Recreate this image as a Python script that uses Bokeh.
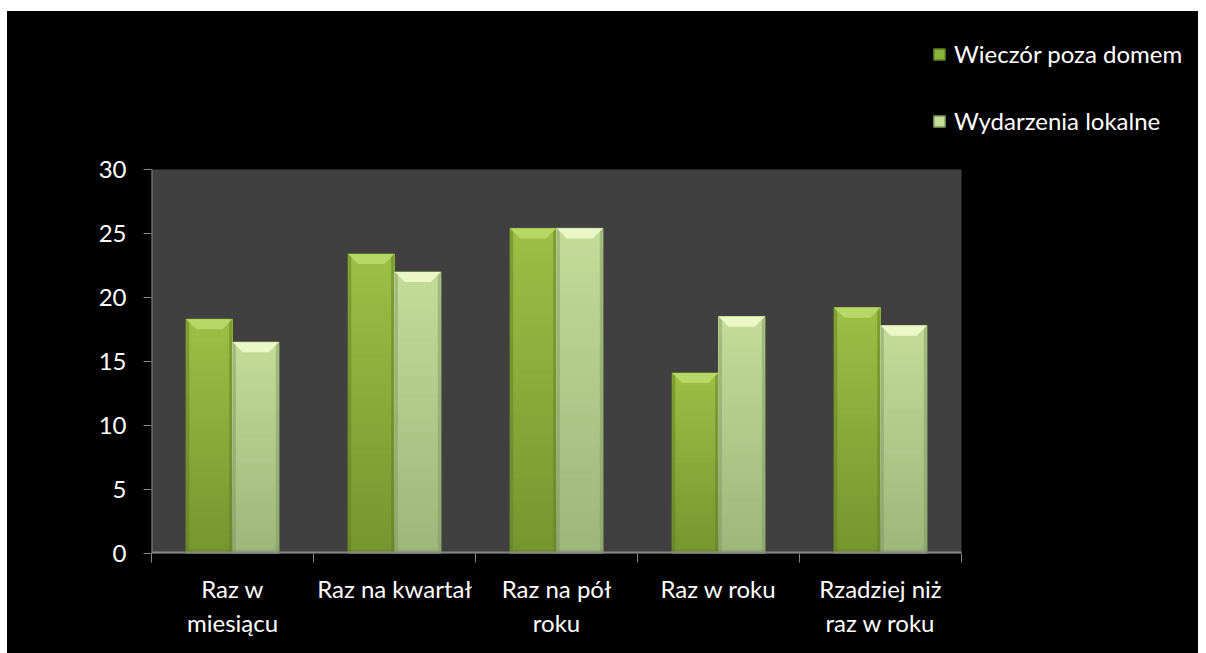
from bokeh.plotting import figure
from bokeh.models import (Range1d, FixedTicker, Legend, LegendItem, Spacer)
from bokeh.layouts import column, row
from bokeh.embed import file_html
from bokeh.resources import INLINE

# ---- data ----
categories = ["Raz w\nmiesiącu", "Raz na kwartał", "Raz na pół\nroku",
              "Raz w roku", "Rzadziej niż\nraz w roku"]
series_names = ["Wieczór poza domem", "Wydarzenia lokalne"]
wieczor = [18.3, 23.4, 25.4, 14.1, 19.2]
wydarzenia = [16.5, 22.0, 25.4, 18.5, 17.8]
y_ticks = [0, 5, 10, 15, 20, 25, 30]
y_max = 30

FONT = "Lato"
FS = "24px"
AXIS_C = "#868686"

# layout (pixels)
W, H = 1191, 642
BL, BB = 144, 100
PLOT_W, PLOT_H = 810, 384
ncat = len(categories)
px_x = PLOT_W / ncat
px_y = PLOT_H / y_max

p = figure(width=W, height=H, output_backend="svg", toolbar_location=None,
           x_range=Range1d(0, (W - BL) / px_x), y_range=Range1d(0, (H - BB) / px_y),
           min_border_left=BL, min_border_right=0, min_border_top=0,
           min_border_bottom=BB, styles={"background-color": "black"})
p.border_fill_color = "black"
p.background_fill_color = "black"
p.outline_line_color = None
p.xgrid.visible = False
p.ygrid.visible = False

# plot area background
p.quad(left=[0], right=[ncat], bottom=[0], top=[y_max], fill_color="#404040",
       line_color=None)

# y axis
p.yaxis.ticker = FixedTicker(ticks=y_ticks)
p.yaxis.axis_line_color = None
p.yaxis.major_tick_line_color = AXIS_C
p.yaxis.major_tick_out = 8
p.yaxis.major_tick_in = 0
p.yaxis.minor_tick_line_color = None
p.yaxis.major_label_text_color = "white"
p.yaxis.major_label_text_font = FONT
p.yaxis.major_label_text_font_size = FS
p.yaxis.major_label_standoff = 17

# x axis: labels at category centres, tick marks at category boundaries
centers = [i + 0.5 for i in range(ncat)]
p.xaxis.ticker = FixedTicker(ticks=centers, minor_ticks=list(range(ncat + 1)))
p.xaxis.major_label_overrides = {c: lab for c, lab in zip(centers, categories)}
p.xaxis.axis_line_color = None
p.xaxis.major_tick_line_color = None
p.xaxis.major_tick_out = 0
p.xaxis.major_tick_in = 0
p.xaxis.minor_tick_line_color = AXIS_C
p.xaxis.minor_tick_out = 9
p.xaxis.minor_tick_in = 0
p.xaxis.major_label_text_color = "white"
p.xaxis.major_label_text_font = FONT
p.xaxis.major_label_text_font_size = FS
p.xaxis.major_label_standoff = 11


def lerp(c1, c2, t):
    a = [int(c1[i:i + 2], 16) for i in (1, 3, 5)]
    b = [int(c2[i:i + 2], 16) for i in (1, 3, 5)]
    return "#%02x%02x%02x" % tuple(round(a[k] + (b[k] - a[k]) * t) for k in range(3))


BW = 0.284
PX_X = 1 / px_x   # data units per px (x)
PX_Y = 1 / px_y   # data units per px (y)


def draw_bars(values, offset, top_c, bot_c, bevel_c, edge_c, mid_c):
    xc = [i + 0.5 + offset for i in range(len(values))]
    # base bar (also used as legend glyph)
    base = p.quad(left=[c - BW / 2 for c in xc], right=[c + BW / 2 for c in xc],
                  bottom=[0] * len(values), top=values, fill_color=mid_c,
                  line_color=edge_c, line_width=1.5)
    n = 30
    l, r, b, t, cols = [], [], [], [], []
    for k in range(n):
        for c, v in zip(xc, values):
            l.append(c - BW / 2)
            r.append(c + BW / 2)
            b.append(v * k / n)
            t.append(v)
            cols.append(lerp(bot_c, top_c, (k + 0.5) / n))
    p.quad(left=l, right=r, bottom=b, top=t, fill_color=cols, line_color=None)
    # side bevels
    el, er, eb, et = [], [], [], []
    for c, v in zip(xc, values):
        for x0, x1 in ((c - BW / 2, c - BW / 2 + 3 * PX_X),
                       (c + BW / 2 - 3 * PX_X, c + BW / 2)):
            el.append(x0); er.append(x1); eb.append(0); et.append(v)
    p.quad(left=el, right=er, bottom=eb, top=et, fill_color=edge_c,
           fill_alpha=0.5, line_color=None)
    # bottom bevel
    p.quad(left=[c - BW / 2 for c in xc], right=[c + BW / 2 for c in xc],
           bottom=[0] * len(values), top=[4 * PX_Y] * len(values),
           fill_color=edge_c, fill_alpha=0.35, line_color=None)
    # top bevel (trapezoid)
    xs, ys = [], []
    for c, v in zip(xc, values):
        xl, xr = c - BW / 2, c + BW / 2
        d = 10 * PX_X
        h = 10 * PX_Y
        xs.append([xl, xr, xr - d, xl + d])
        ys.append([v, v, v - h, v - h])
    p.patches(xs, ys, fill_color=bevel_c, line_color=None)
    return base


r1 = draw_bars(wieczor, -BW / 2 - 0.002, "#9cbf45", "#759530", "#b7d866",
               "#5f7d22", "#8db33a")
r2 = draw_bars(wydarzenia, BW / 2 + 0.002, "#c4dc98", "#9db67a", "#ecf7c8",
               "#7f9760", "#c4dc98")

# axis lines (limited to the plot area)
p.segment(x0=[0], y0=[0], x1=[0], y1=[y_max], line_color=AXIS_C, line_width=2)
p.segment(x0=[0], y0=[0], x1=[ncat], y1=[0], line_color=AXIS_C, line_width=4)

# legend
legend = Legend(items=[LegendItem(label=series_names[0], renderers=[r1]),
                       LegendItem(label=series_names[1], renderers=[r2])],
                location=(781, 418), padding=0, margin=0, spacing=38,
                glyph_width=14, glyph_height=14, label_standoff=8,
                label_text_color="white", label_text_font=FONT,
                label_text_font_size=FS, background_fill_alpha=0,
                border_line_color=None)
p.add_layout(legend, "center")

layout = column(Spacer(height=11, width=W + 7), row(Spacer(width=7, height=H), p))
open("out.html", "w").write(file_html(layout, INLINE))
